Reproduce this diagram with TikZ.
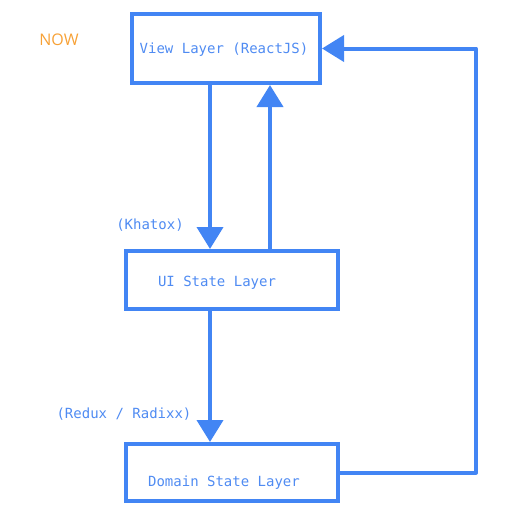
\documentclass[tikz,border=0pt]{standalone}
\usepackage{fontspec}
\setmainfont{Open Sans}
\setmonofont{DejaVu Sans Mono}
\usetikzlibrary{arrows.meta}
\definecolor{layerblue}{HTML}{4285F4}
\definecolor{textblue}{HTML}{4F8BF2}
\definecolor{noworange}{HTML}{F7A136}
\tikzset{
  layer/.style={draw=layerblue, line width=4pt, rectangle, inner sep=0pt},
  flow/.style={draw=layerblue, line width=4pt, line join=round,
    -{Triangle[length=22pt,width=26pt]}, layerblue},
  caption/.style={text=textblue, font=\ttfamily\fontsize{14}{16}\selectfont}
}
\begin{document}
\begin{tikzpicture}[x=1pt,y=-1pt]
\useasboundingbox (0,0) rectangle (517,522);

\begin{scope}
        \node[layer, minimum width=188pt, minimum height=69pt] (view) at (226,48.5) {};
        \node[layer, minimum width=212pt, minimum height=58pt] (ui) at (232,280) {};
        \node[layer, minimum width=212pt, minimum height=57pt] (domain) at (232,472.5) {};

        \coordinate (L) at (210,0);
        \coordinate (R) at (270,0);
        \coordinate (E) at (476,260);

        \draw[flow] (view.south -| L) -- (ui.north -| L);
        \draw[flow] (ui.north -| R) -- (view.south -| R);
        \draw[flow] (ui.south -| L) -- (domain.north -| L);
        \draw[flow] (domain.east) -| (E) |- (view.east);

        % Texte
        \node[caption] (viewtext) at (224,50) {View Layer (ReactJS)};
        \node[caption] (uitext) at (217,283) {UI State Layer};
        \node[caption] (domaintext) at (224,483) {Domain State Layer};
        \node[caption] (khatox) at (150,225) {(Khatox)};
        \node[caption] (redux) at (124,414) {(Redux / Radixx)};
        \node[text=noworange, font=\fontsize{16}{18}\selectfont] (now) at (59,40) {NOW};
\end{scope}

\end{tikzpicture}
\end{document}
